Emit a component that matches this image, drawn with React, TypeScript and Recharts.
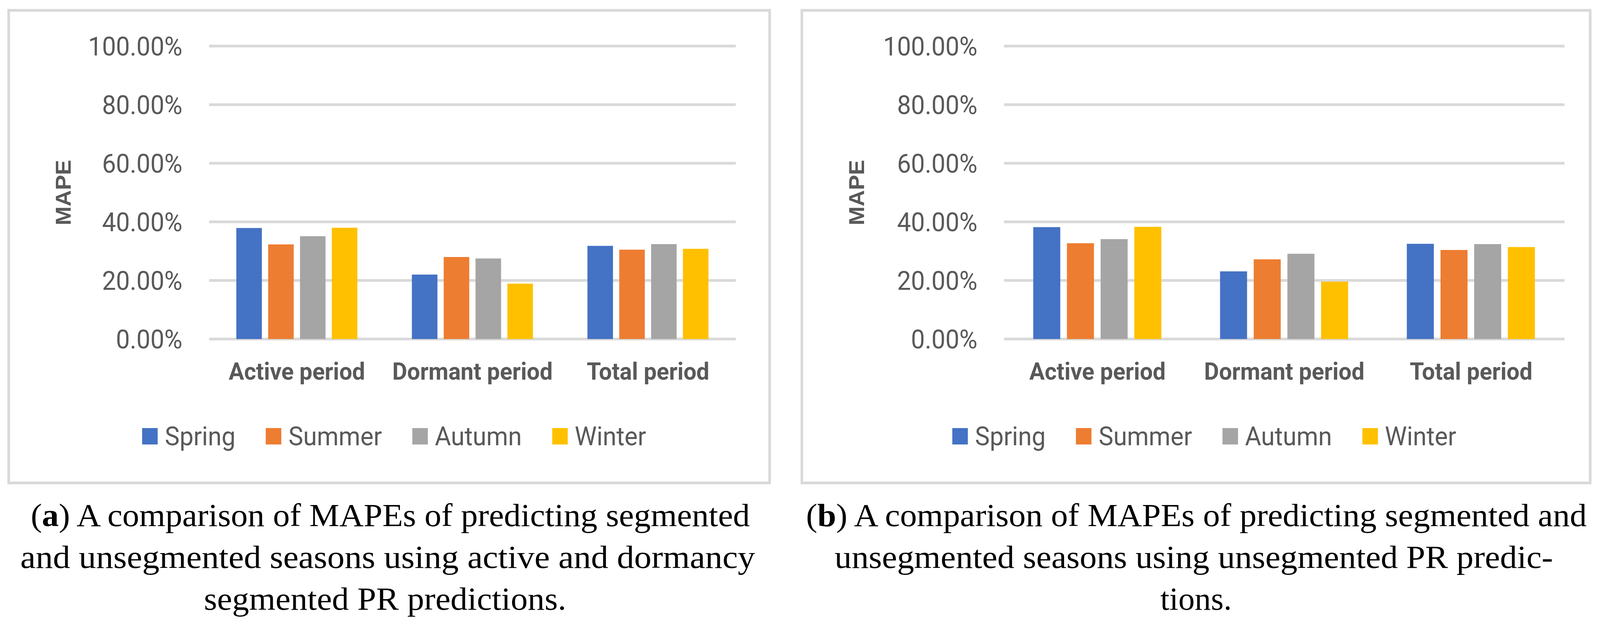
import { Bar, BarChart, CartesianGrid, Legend, XAxis, YAxis } from 'recharts'

const categories = ['Active period', 'Dormant period', 'Total period']
const seasons = ['Spring', 'Summer', 'Autumn', 'Winter']
const seasonColors = ['#4472C4', '#ED7D31', '#A5A5A5', '#FFC000']
const yTicks = [0, 20, 40, 60, 80, 100]

// (a) active / dormancy segmented PR predictions, MAPE in %
const springA = [37.9, 22.0, 31.8]
const summerA = [32.3, 28.0, 30.5]
const autumnA = [35.1, 27.5, 32.4]
const winterA = [38.0, 18.9, 30.8]

// (b) unsegmented PR predictions, MAPE in %
const springB = [38.2, 23.1, 32.5]
const summerB = [32.7, 27.2, 30.4]
const autumnB = [34.1, 29.1, 32.4]
const winterB = [38.3, 19.6, 31.4]

const captionA = [
  'A comparison of MAPEs of predicting segmented',
  'and unsegmented seasons using active and dormancy',
  'segmented PR predictions.',
]
const captionB = [
  'A comparison of MAPEs of predicting segmented and',
  'unsegmented seasons using unsegmented PR predic-',
  'tions.',
]

const FONT = "Roboto, 'Liberation Sans', sans-serif"
const TEXT = '#595959'
const GRID = '#D9D9D9'
const PAGE_W = 4323
const PAGE_H = 1613

function buildRows(sp: number[], su: number[], au: number[], wi: number[]) {
  return categories.map((name, i) => ({
    name,
    Spring: sp[i],
    Summer: su[i],
    Autumn: au[i],
    Winter: wi[i],
  }))
}

const rowsA = buildRows(springA, summerA, autumnA, winterA)
const rowsB = buildRows(springB, summerB, autumnB, winterB)

// eslint-disable-next-line @typescript-eslint/no-explicit-any
function SeasonLegend({ payload, pad }: any) {
  const items = [...(payload || [])].sort(
    (a: any, b: any) => seasons.indexOf(a.value) - seasons.indexOf(b.value)
  )
  return (
    <div
      style={{
        display: 'flex',
        justifyContent: 'center',
        alignItems: 'center',
        height: 60,
        paddingLeft: pad,
        fontFamily: FONT,
        fontSize: 67,
        color: TEXT,
      }}
    >
      {items.map((p: any, i: number) => (
        <div
          key={p.value}
          style={{ display: 'flex', alignItems: 'center', marginLeft: i ? 82 : 0 }}
        >
          <span
            style={{ width: 42, height: 42, background: p.color, marginRight: 19, display: 'inline-block' }}
          />
          <span>{p.value}</span>
        </div>
      ))}
    </div>
  )
}

type PanelProps = {
  rows: ReturnType<typeof buildRows>
  width: number
  plotLeft: number
  plotRight: number
  labelX: number
  legendPad: number
  barGap: number
  barCategoryGap: string
}

function Panel({ rows, width, plotLeft, plotRight, labelX, legendPad, barGap, barCategoryGap }: PanelProps) {
  const height = 1240
  const yAxisWidth = 400
  return (
    <BarChart
      width={width}
      height={height}
      data={rows}
      barGap={barGap}
      barCategoryGap={barCategoryGap}
      margin={{ top: 118, left: plotLeft - yAxisWidth, right: width - plotRight, bottom: height - 868 - 200 }}
    >
      <CartesianGrid vertical={false} stroke={GRID} strokeWidth={7} />
      <XAxis
        dataKey='name'
        axisLine={false}
        tickLine={false}
        tickSize={0}
        tickMargin={60}
        height={200}
        interval={0}
        tick={{ fill: TEXT, fontSize: 62, fontWeight: 'bold', fontFamily: FONT }}
      />
      <YAxis
        domain={[0, 100]}
        ticks={yTicks}
        interval={0}
        width={yAxisWidth}
        axisLine={false}
        tickLine={false}
        tickSize={0}
        tickMargin={72}
        tickFormatter={(v: number) => `${v.toFixed(2)}%`}
        tick={{ fill: TEXT, fontSize: 67, fontFamily: FONT }}
        label={(props: any) => {
          const vb = props.viewBox
          const cy = vb.y + vb.height / 2
          return (
            <text
              x={labelX}
              y={cy}
              transform={`rotate(-90, ${labelX}, ${cy})`}
              textAnchor='middle'
              dominantBaseline='central'
              fill={TEXT}
              fontSize={58}
              fontWeight='bold'
              fontFamily="'Liberation Sans', Arial, sans-serif"
            >
              MAPE
            </text>
          )
        }}
      />
      <Legend
        layout='horizontal'
        verticalAlign='middle'
        align='center'
        wrapperStyle={{ top: 1087, left: 0, width, height: 60 }}
        content={(props: any) => <SeasonLegend {...props} pad={legendPad} />}
      />
      {seasons.map((s, i) => (
        <Bar key={s} dataKey={s} fill={seasonColors[i]} isAnimationActive={false} />
      ))}
    </BarChart>
  )
}

function Caption({ letter, lines, starts, widths }: { letter: string; lines: string[]; starts: number[]; widths: number[] }) {
  const baselines = [1347, 1454, 1561]
  return (
    <>
      {lines.map((line, i) => (
        <text
          key={i}
          x={starts[i]}
          y={baselines[i]}
          textLength={widths[i]}
          lengthAdjust='spacingAndGlyphs'
          fontFamily="'Liberation Serif', 'DejaVu Serif', serif"
          fontSize={82}
          fill='#000'
        >
          {i === 0 ? (
            <>
              (<tspan fontWeight='bold'>{letter}</tspan>) {line}
            </>
          ) : (
            line
          )}
        </text>
      ))}
    </>
  )
}

export default function App() {
  // stretch the 4323 x 1613 layout over the viewport the page really gets
  const hasWin = typeof window !== 'undefined' && window.innerWidth > 0 && window.innerHeight > 0
  const sx = hasWin ? window.innerWidth / PAGE_W : 1
  const sy = hasWin ? window.innerHeight / PAGE_H : 1
  const box = (left: number, width: number) => ({
    position: 'absolute' as const,
    left,
    top: 23,
    width,
    height: 1217,
    border: `7px solid ${GRID}`,
    boxSizing: 'border-box' as const,
  })
  return (
    <div
      style={{
        position: 'absolute',
        left: 0,
        top: 0,
        width: PAGE_W,
        height: PAGE_H,
        overflow: 'hidden',
        background: '#fff',
        transform: `scale(${sx}, ${sy})`,
        transformOrigin: '0 0',
      }}
    >
      <div style={box(20, 2063)} />
      <div style={box(2163, 2137)} />
      <div style={{ position: 'absolute', left: 0, top: 0 }}>
        <Panel
          rows={rowsA}
          width={2100}
          plotLeft={565}
          plotRight={1988}
          labelX={171}
          legendPad={30}
          barGap={17}
          barCategoryGap='15.5%'
        />
      </div>
      <div style={{ position: 'absolute', left: 2140, top: 0 }}>
        <Panel
          rows={rowsB}
          width={2183}
          plotLeft={573}
          plotRight={2087}
          labelX={175}
          legendPad={45}
          barGap={18}
          barCategoryGap='15.6%'
        />
      </div>
      <svg width={PAGE_W} height={PAGE_H} style={{ position: 'absolute', left: 0, top: 0, pointerEvents: 'none' }}>
        <Caption letter='a' lines={captionA} starts={[83, 55, 551]} widths={[1943, 1985, 979]} />
        <Caption letter='b' lines={captionB} starts={[2178, 2255, 3135]} widths={[2109, 1941, 193]} />
      </svg>
    </div>
  )
}
